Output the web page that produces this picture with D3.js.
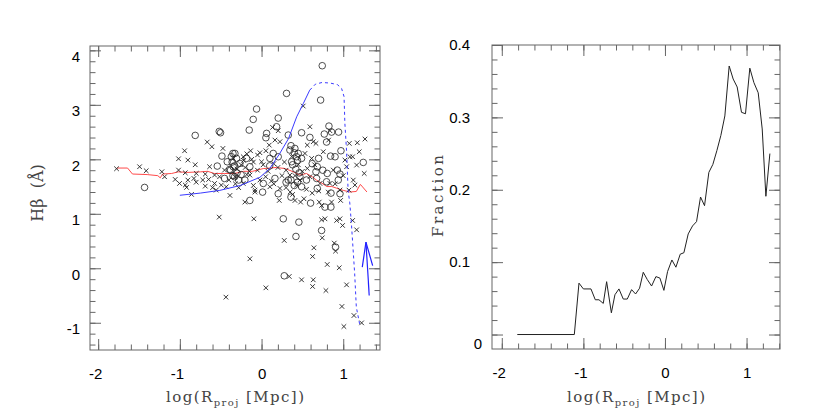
<!DOCTYPE html>
<html>
<head>
<meta charset="utf-8">
<script src="https://cdn.jsdelivr.net/npm/d3@7.9.0/dist/d3.min.js"></script>
<style>
  body { margin: 0; background: #fff; }
  .tick text { font-family: "Liberation Sans", Arial, sans-serif; font-size: 15px; fill: #000; }
  .title { font-family: "DejaVu Serif", "Liberation Serif", serif; font-size: 15px; fill: #444; }
</style>
</head>
<body>
<svg id="chart" width="830" height="417"></svg>
<script>
// ---- data ----
const crosses = [
  [-1.775,1.827],[-1.493,1.864],[-1.412,1.790],[-1.220,1.772],[-1.187,1.680],[-1.016,2.010],[-0.942,2.157],
  [-0.902,1.986],[-0.812,1.900],[-1.016,1.802],[-0.934,1.753],[-1.057,1.631],[-1.004,1.557],[-0.934,1.527],
  [-0.902,1.619],[-0.828,1.649],[-0.799,1.741],[-0.918,1.484],[-0.689,1.508],[-0.665,2.317],[-0.608,2.231],
  [-0.473,2.200],[-0.689,1.729],[-0.636,1.864],[-0.575,1.711],[-0.648,1.631],[-0.514,1.680],[-0.453,1.802],
  [-0.575,1.557],[-0.493,1.527],[-0.555,1.435],[-0.432,1.496],
  [0.510,2.978],[0.135,2.586],[0.204,2.525],[0.592,2.598],[0.837,2.525],[0.666,2.292],[0.633,2.323],
  [0.821,2.353],[1.074,2.292],[1.172,2.304],[1.266,2.372],[1.196,2.139],[1.082,2.047],[1.115,2.047],
  [1.257,1.741],[1.164,1.894],[1.123,1.619],[1.143,1.527],[1.070,1.435],[0.225,2.323],[0.164,2.353],
  [0.094,2.261],[0.053,2.157],[-0.020,2.121],[-0.134,2.157],[-0.224,2.047],[-0.347,2.017],[0.000,1.955],
  [0.531,2.108],[0.560,2.261],[0.613,2.017],[0.756,2.139],[1.021,1.986],[1.041,1.864],[0.878,1.802],
  [0.960,1.435],[0.837,1.557],[0.715,1.557],[0.592,1.680],[0.429,1.527],[0.225,1.466],[0.102,1.496],
  [-0.081,1.435],[-0.224,1.557],[-0.326,1.680],[-0.143,1.711],[0.347,1.711],[0.560,1.833],
  [-0.25,1.90],[-0.20,1.85],[-0.15,1.78],[-0.10,1.95],[-0.05,1.80],[-0.18,1.72],[0.02,1.90],[0.08,1.78],
  [0.37,2.05],[0.45,1.90],[0.41,1.70],[0.47,1.62],[0.30,1.80],[0.25,1.70],[0.20,1.85],[0.12,1.60],
  [-0.18,2.10],[-0.12,2.00],[-0.05,2.08],
  [-0.80,1.58],[-0.72,1.62],[-0.60,1.48],[-0.40,1.62],[-0.32,1.55],[-0.28,1.48],[-0.10,1.52],[-0.02,1.62],
  [0.05,1.68],[0.15,1.55],[0.30,1.48],[0.35,1.40],[0.55,1.45],[0.62,1.38],[0.70,1.42],[0.90,1.55],
  [1.00,1.70],[0.50,1.78],[0.65,1.90],[0.28,1.95],[-0.30,1.82],[-0.22,1.98],[0.15,1.92],
  [-0.387,1.337],[-0.204,1.215],[-0.081,1.398],[0.217,1.245],[0.380,1.355],[0.409,1.245],[0.478,1.215],
  [0.519,1.276],[0.706,1.215],[0.735,1.153],[0.857,1.215],[0.817,1.398],[0.968,1.245],[-0.857,1.356],
  [-0.094,0.908],[0.735,0.890],[0.776,0.908],[0.919,0.878],[0.960,0.908],[0.992,0.786],[1.115,0.878],
  [1.164,0.706],[0.743,0.559],[0.278,0.511],[0.641,0.376],[0.890,0.462],[0.906,0.315],[0.625,0.217],
  [0.804,0.070],[0.951,0.009],[-0.143,0.174],[0.339,-0.150],[0.490,-0.212],[0.633,-0.212],[0.625,-0.334],
  [0.788,-0.408],[1.041,-0.304],[0.053,-0.359],[0.984,-0.701],[1.131,-0.867],[1.225,-1.002],[1.008,-1.069],
  [-0.518,0.939],[-0.436,-0.530]
];

const circles = [
  [-1.432,1.484],[-0.812,2.439],[-0.518,2.512],[-0.502,2.488],[-0.542,1.876],[-0.485,2.059],[-0.350,2.108],
  [-0.420,1.955],[-0.391,1.815],[-0.330,1.680],[-0.453,1.649],
  [0.743,3.718],[0.306,3.210],[0.723,3.088],[-0.061,2.923],[-0.102,2.733],[0.204,2.757],[-0.151,2.537],
  [0.184,2.598],[0.062,2.476],[0.053,2.396],[0.327,2.445],[0.490,2.488],[0.592,2.402],[0.825,2.610],
  [0.857,2.500],[0.943,2.500],[0.768,2.464],[0.796,2.317],[0.972,2.157],[0.845,2.059],[0.698,2.017],
  [1.245,1.943],[0.900,2.047],[0.682,1.864],[0.927,1.802],[0.960,1.729],[0.804,1.741],[0.666,1.772],
  [0.449,2.108],[0.408,2.200],[0.429,2.047],[0.347,2.170],[0.368,1.955],[0.143,2.108],[0.102,2.017],
  [0.204,2.047],[-0.326,2.108],[-0.306,2.017],[-0.265,1.925],[-0.347,1.864],[-0.184,2.017],[-0.143,1.864],
  [0.490,2.017],[0.470,1.680],[0.327,1.619],[0.164,1.649],[0.021,1.557],[-0.204,1.619],[0.490,1.496],
  [0.674,1.649],[0.796,1.588],[0.939,1.619],[0.682,1.466],
  [-0.37,2.05],[-0.36,1.95],[-0.33,1.88],[-0.30,1.75],[-0.35,1.70],[-0.28,1.62],[-0.38,1.80],
  [0.36,2.25],[0.40,2.12],[0.44,1.98],[0.38,1.90],[0.42,1.82],[0.46,1.75],[0.36,1.62],[0.44,1.58],[0.40,1.52],
  [-0.25,1.72],[0.10,1.88],[0.55,1.62],[0.62,1.92],[0.30,1.58],[0.75,1.80],[0.85,1.38],
  [-0.143,1.245],[0.013,1.398],[0.204,1.368],[0.360,1.306],[0.600,1.196],[0.776,1.123],[0.849,1.123],[0.960,1.368],
  [0.266,0.908],[0.457,0.847],[0.735,0.694],[0.421,0.584],[0.906,0.388],[0.278,-0.138]
];

// running median (red)
const redX = [-1.77,-1.64,-1.58,-1.40,-1.27,-1.24,-1.21,-1.10,-1.02,-0.90,-0.75,-0.66,-0.58,-0.45,-0.33,
  -0.22,-0.11,0.02,0.18,0.29,0.39,0.47,0.55,0.62,0.67,0.74,0.80,0.86,0.92,1.00,1.08,1.16,1.21,1.29];
const redY = [1.84,1.84,1.73,1.72,1.70,1.66,1.73,1.74,1.77,1.76,1.77,1.78,1.74,1.74,1.74,
  1.78,1.78,1.83,1.85,1.83,1.77,1.71,1.74,1.68,1.62,1.56,1.50,1.50,1.47,1.43,1.40,1.41,1.54,1.40];

// model track (blue), solid part then dashed part
const blueSolidX = [-1.00,-0.75,-0.51,-0.26,-0.02,0.10,0.22,0.33,0.43,0.51,0.59];
const blueSolidY = [1.34,1.38,1.43,1.52,1.67,1.83,2.10,2.38,2.78,3.02,3.27];
const blueDashX = [0.59,0.66,0.74,0.84,0.93,0.98,1.01,1.02,1.04,1.06,1.08,1.10,1.14,1.16,1.20];
const blueDashY = [3.27,3.38,3.41,3.40,3.37,3.30,3.15,2.66,2.17,1.42,1.20,0.82,-0.10,-0.71,-1.02];

// arrow: tail, tip, head ends
const arrowShaft = [[1.318,-0.50],[1.278,0.48]];
const arrowHead = [[1.233,0.02],[1.278,0.48],[1.36,0.05]];

// right panel: fraction
const fracX = [-1.81,-1.111,-1.054,-1.000,-0.907,-0.854,-0.809,-0.756,-0.715,-0.657,-0.613,-0.564,-0.511,
  -0.462,-0.409,-0.360,-0.311,-0.266,-0.217,-0.164,-0.111,-0.062,-0.013,0.032,0.085,0.134,0.187,0.232,
  0.285,0.338,0.387,0.436,0.485,0.538,0.587,0.636,0.685,0.734,0.787,0.836,0.885,0.938,0.987,1.040,
  1.090,1.143,1.192,1.237,1.286];
const fracY = [0,0,0.071,0.063,0.063,0.048,0.048,0.043,0.073,0.030,0.055,0.063,0.049,
  0.049,0.062,0.056,0.064,0.086,0.076,0.067,0.080,0.078,0.061,0.087,0.103,0.093,0.111,0.113,
  0.139,0.150,0.156,0.190,0.178,0.224,0.235,0.254,0.275,0.302,0.371,0.353,0.342,0.307,0.305,0.368,
  0.348,0.334,0.284,0.191,0.250];

const leftYTicks = [-1, 0, 1, 2, 3, 4];
const rightYTicks = [0, 0.1, 0.2, 0.3, 0.4];
const xTicks = [-2, -1, 0, 1];

// ---- layout ----
const svg = d3.select("#chart");
const frameColor = "#666";

const lx = d3.scaleLinear().domain([-2.1, 1.45]).range([90, 380]);
const ly = d3.scaleLinear().domain([-1.5, 4.08]).range([350, 46]);
const rx = d3.scaleLinear().domain([-2.12, 1.41]).range([492, 780]);
const ry = d3.scaleLinear().domain([-0.02, 0.4]).range([349, 45]);

function drawFrame(x, y, majorY, minorY, yLabelPad, yDy) {
  const [x0, x1] = x.range();
  const [y0, y1] = y.range();
  const minorX = d3.range(-2, 1.45, 0.2).map(v => +v.toFixed(2));

  // minor ticks on all four sides
  const gMinor = svg.append("g").attr("class", "minor");
  gMinor.append("g").attr("transform", `translate(0,${y0})`)
    .call(d3.axisBottom(x).tickValues(minorX).tickSize(-5.5).tickFormat(""));
  gMinor.append("g").attr("transform", `translate(0,${y1})`)
    .call(d3.axisTop(x).tickValues(minorX).tickSize(-5.5).tickFormat(""));
  gMinor.append("g").attr("transform", `translate(${x0},0)`)
    .call(d3.axisLeft(y).tickValues(minorY).tickSize(-5.5).tickFormat(""));
  gMinor.append("g").attr("transform", `translate(${x1},0)`)
    .call(d3.axisRight(y).tickValues(minorY).tickSize(-5.5).tickFormat(""));

  // major ticks
  const xb = svg.append("g").attr("transform", `translate(0,${y0})`)
    .call(d3.axisBottom(x).tickValues(xTicks).tickSize(-11).tickPadding(18).tickFormat(d => String(d)));
  xb.selectAll("text").attr("dx", d => d < 0 ? -3 : 0);
  svg.append("g").attr("transform", `translate(0,${y1})`)
    .call(d3.axisTop(x).tickValues(xTicks).tickSize(-11).tickFormat(""));
  const yl = svg.append("g").attr("transform", `translate(${x0},0)`)
    .call(d3.axisLeft(y).tickValues(majorY).tickSize(-11).tickPadding(yLabelPad).tickFormat(d => String(d)));
  yl.selectAll("text").attr("dy", yDy);
  svg.append("g").attr("transform", `translate(${x1},0)`)
    .call(d3.axisRight(y).tickValues(majorY).tickSize(-11).tickFormat(""));

  svg.selectAll(".domain").remove();
  svg.selectAll(".tick line").attr("stroke", frameColor);

  svg.append("rect")
    .attr("x", x0).attr("y", y1)
    .attr("width", x1 - x0).attr("height", y0 - y1)
    .attr("fill", "none").attr("stroke", frameColor).attr("stroke-width", 1);
  return yl;
}

// ---- left panel ----
drawFrame(lx, ly, leftYTicks, d3.range(-1.4, 4.01, 0.2).map(v => +v.toFixed(2)), 10, "0.72em");

const gl = svg.append("g");
const line = (x, y) => d3.line().x(d => x(d[0])).y(d => y(d[1]));

gl.append("path")
  .datum(redX.map((v, i) => [v, redY[i]]))
  .attr("d", line(lx, ly))
  .attr("fill", "none").attr("stroke", "#ff4a4a").attr("stroke-width", 1);

gl.selectAll("path.cross")
  .data(crosses)
  .join("path")
  .attr("class", "cross")
  .attr("d", d => {
    const cx = lx(d[0]), cy = ly(d[1]), s = 2.3;
    return `M${cx - s},${cy - s}L${cx + s},${cy + s}M${cx - s},${cy + s}L${cx + s},${cy - s}`;
  })
  .attr("stroke", "#222").attr("stroke-width", 0.9).attr("fill", "none");

gl.selectAll("circle")
  .data(circles)
  .join("circle")
  .attr("cx", d => lx(d[0]))
  .attr("cy", d => ly(d[1]))
  .attr("r", 3.3)
  .attr("fill", "none").attr("stroke", "#222").attr("stroke-width", 0.8);

gl.append("path")
  .datum(blueSolidX.map((v, i) => [v, blueSolidY[i]]))
  .attr("d", line(lx, ly))
  .attr("fill", "none").attr("stroke", "#3a3aff").attr("stroke-width", 1);

gl.append("path")
  .datum(blueDashX.map((v, i) => [v, blueDashY[i]]))
  .attr("d", line(lx, ly))
  .attr("fill", "none").attr("stroke", "#3a3aff").attr("stroke-width", 1)
  .attr("stroke-dasharray", "3,3");

gl.append("path").datum(arrowShaft).attr("d", line(lx, ly))
  .attr("fill", "none").attr("stroke", "#2020ff").attr("stroke-width", 1.2);
gl.append("path").datum(arrowHead).attr("d", line(lx, ly))
  .attr("fill", "none").attr("stroke", "#2020ff").attr("stroke-width", 1.2);

// ---- right panel ----
const yr = drawFrame(rx, ry, rightYTicks, d3.range(0, 0.401, 0.02).map(v => +v.toFixed(3)), 22, "0.32em");
yr.selectAll("text")
  .text(d => d === 0 ? "0" : d3.format(".1f")(d))
  .attr("dx", d => d === 0 ? 12 : 0)
  .attr("dy", d => d === 0 ? "0.9em" : "0.32em");

svg.append("path")
  .datum(fracX.map((v, i) => [v, fracY[i]]))
  .attr("d", line(rx, ry))
  .attr("fill", "none").attr("stroke", "#222").attr("stroke-width", 1);

// ---- axis titles ----
function xTitle(cx) {
  const t = svg.append("text").attr("class", "title")
    .attr("x", cx).attr("y", 402).attr("text-anchor", "middle")
    .attr("textLength", 138).attr("lengthAdjust", "spacing");
  t.append("tspan").text("log(R");
  t.append("tspan").attr("dy", 4).attr("font-size", "10px").text("proj");
  t.append("tspan").attr("dy", -4).text("\u00a0[Mpc])");
}
xTitle(235);
xTitle(636);

svg.append("text").attr("class", "title")
  .attr("transform", "translate(43,193) rotate(-90)")
  .attr("text-anchor", "middle")
  .style("font-size", "16px")
  .text("H\u03b2\u00a0\u00a0(\u00c5)");

svg.append("text").attr("class", "title")
  .attr("transform", "translate(443,196) rotate(-90)")
  .attr("text-anchor", "middle")
  .attr("textLength", 82).attr("lengthAdjust", "spacing")
  .text("Fraction");
</script>
</body>
</html>
